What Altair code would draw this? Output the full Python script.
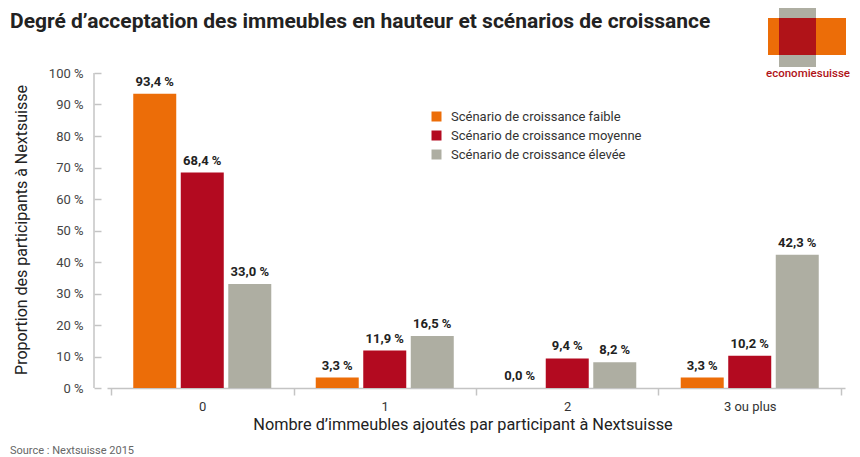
import altair as alt
import pandas as pd

categories = ["0", "1", "2", "3 ou plus"]
series = [
    "Scénario de croissance faible",
    "Scénario de croissance moyenne",
    "Scénario de croissance élevée",
]
faible = [93.4, 3.3, 0.0, 3.3]
moyenne = [68.4, 11.9, 9.4, 10.2]
elevee = [33.0, 16.5, 8.2, 42.3]
y_ticks = [0, 10, 20, 30, 40, 50, 60, 70, 80, 90, 100]
colors = ["#EC6D08", "#B30A20", "#AEAEA2"]

title_text = "Degré d’acceptation des immeubles en hauteur et scénarios de croissance"
y_title = "Proportion des participants à Nextsuisse"
x_title = "Nombre d’immeubles ajoutés par participant à Nextsuisse"
source_text = "Source : Nextsuisse 2015"
logo_text = "economiesuisse"

rows = []
for s, vals in zip(series, [faible, moyenne, elevee]):
    for c, v in zip(categories, vals):
        rows.append({"cat": c, "serie": s, "value": v,
                     "label": f"{v:.1f} %".replace(".", ",")})
df = pd.DataFrame(rows)

FONT = "Roboto, sans-serif"
AXIS_GREY = "#C4C4C4"

x_enc = alt.X(
    "cat:N", sort=categories,
    scale=alt.Scale(paddingInner=0, paddingOuter=0.022),
    axis=alt.Axis(title=None, labelAngle=0, tickBand="extent",
                  domainColor=AXIS_GREY, domainWidth=1.5, tickColor=AXIS_GREY,
                  tickWidth=1.5, tickSize=7, labelFontSize=13, labelColor="#333",
                  labelPadding=5, labelFont=FONT),
)
xo_enc = alt.XOffset("serie:N", sort=series,
                     scale=alt.Scale(paddingInner=0.095, paddingOuter=0.468))
y_scale = alt.Scale(domain=[0, 100], nice=False)
y_axis = alt.Axis(values=y_ticks, title=None, grid=False, domain=False, offset=6,
                  tickSize=7, tickColor=AXIS_GREY, tickWidth=1.5, labelOverlap=False,
                  labelExpr="datum.value + ' %'", labelFontSize=13,
                  labelColor="#444", labelPadding=11, labelFont=FONT)
y_enc = alt.Y("value:Q", scale=y_scale, axis=y_axis)

base = alt.Chart(df)
bars = base.mark_bar().encode(
    x=x_enc, xOffset=xo_enc, y=y_enc,
    color=alt.Color(
        "serie:N", sort=series,
        scale=alt.Scale(domain=series, range=colors),
        legend=alt.Legend(title=None, orient="none", legendX=323, legendY=37,
                          symbolType="square", symbolSize=100, symbolStrokeWidth=0,
                          labelFontSize=13, labelFont=FONT, labelColor="#333",
                          labelLimit=0, rowPadding=5, labelOffset=8),
    ),
)
labels = base.mark_text(baseline="bottom", dy=-5, fontWeight="bold", fontSize=13,
                        font=FONT, color="#222").encode(
    x=x_enc, xOffset=xo_enc, y=y_enc, text="label:N")

one = pd.DataFrame({"k": [0]})
ydomain = alt.Chart(one).mark_rule(color=AXIS_GREY, strokeWidth=1.5).encode(
    x=alt.value(-13),
    y=alt.YDatum(0, type="quantitative", scale=y_scale, axis=y_axis),
    y2=alt.Y2Datum(100))

title = alt.Chart(one).mark_text(text=title_text, align="left", baseline="alphabetic",
                                 fontSize=21, fontWeight="bold", font=FONT,
                                 color="#222").encode(x=alt.value(-97), y=alt.value(-45))
ytitle = alt.Chart(one).mark_text(text=y_title, align="center", baseline="middle",
                                  angle=270, fontSize=16, font=FONT,
                                  color="#222").encode(x=alt.value(-85), y=alt.value(157))
xtitle = alt.Chart(one).mark_text(text=x_title, align="center", baseline="middle",
                                  fontSize=16.3, font=FONT,
                                  color="#222").encode(x=alt.value(356), y=alt.value(352))
source = alt.Chart(one).mark_text(text=source_text, align="left", baseline="middle",
                                  fontSize=11, font=FONT,
                                  color="#666").encode(x=alt.value(-97), y=alt.value(378))
logo_o = alt.Chart(one).mark_rect(color="#EC6D08").encode(
    x=alt.value(661), x2=alt.value(739), y=alt.value(-55), y2=alt.value(-18))
logo_g = alt.Chart(one).mark_rect(color="#AEAEA2").encode(
    x=alt.value(672), x2=alt.value(709), y=alt.value(-70), y2=alt.value(-6))
logo_r = alt.Chart(one).mark_rect(color="#B01318").encode(
    x=alt.value(672), x2=alt.value(709), y=alt.value(-55), y2=alt.value(-18))
logo_t = alt.Chart(one).mark_text(text=logo_text, align="center", baseline="middle",
                                  fontSize=11.5, fontWeight=500, font=FONT,
                                  color="#B01318").encode(x=alt.value(701), y=alt.value(1))

chart = alt.layer(
    bars, labels, ydomain, title, ytitle, xtitle, source,
    logo_o, logo_g, logo_r, logo_t,
).properties(
    width=738, height=315,
    padding={"left": 99, "top": 65, "right": 7, "bottom": 69},
    autosize=alt.AutoSizeParams(type="none"),
).configure_view(stroke=None)

chart.save("out.html", embed_options={"renderer": "svg", "actions": False})
